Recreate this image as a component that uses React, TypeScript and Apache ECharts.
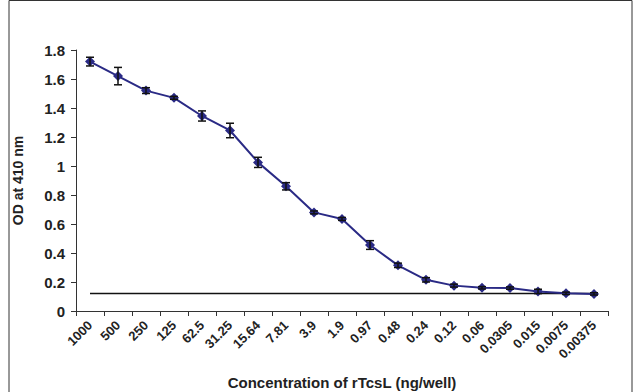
import React, { useEffect, useRef } from "react";
import * as echarts from "echarts";

const categories = ["1000","500","250","125","62.5","31.25","15.64","7.81","3.9","1.9","0.97","0.48","0.24","0.12","0.06","0.0305","0.015","0.0075","0.00375"];
const odValues = [1.72,1.62,1.52,1.47,1.345,1.245,1.025,0.86,0.68,0.635,0.455,0.315,0.215,0.175,0.16,0.158,0.135,0.122,0.118];
const errValues = [0.03,0.06,0.02,0.01,0.035,0.05,0.035,0.025,0.01,0.01,0.03,0.015,0.015,0.01,0.008,0.008,0.015,0.008,0.008];
const cutoff = categories.map(() => 0.12);
const yTicks = { min: 0, max: 1.8, interval: 0.2 };

export default function App() {
  const ref = useRef<HTMLDivElement>(null);
  useEffect(() => {
    if (!ref.current) return;
    const chart = echarts.init(ref.current, null, { renderer: "svg" });
    const font = "Liberation Sans, Arial, sans-serif";
    chart.setOption({
      animation: false,
      backgroundColor: "#ffffff",
      grid: { left: 76, right: 28, top: 50, bottom: 81, containLabel: false, outerBoundsMode: "none" },
      graphic: [
        { type: "rect", shape: { x: 9, y: 0.5, width: 623, height: 400 }, style: { fill: "none", stroke: "#333", lineWidth: 1 }, silent: true },
      ],
      xAxis: {
        type: "category",
        data: categories,
        boundaryGap: true,
        axisLine: { lineStyle: { color: "#333", width: 1 } },
        axisTick: { show: true, length: 5, lineStyle: { color: "#333" }, alignWithLabel: false },
        axisLabel: { rotate: 45, interval: 0, fontFamily: font, fontWeight: "bold", fontSize: 13, color: "#222", margin: 12 },
        name: "Concentration of rTcsL (ng/well)",
        nameLocation: "middle",
        nameGap: 64,
        nameTextStyle: { fontFamily: font, fontWeight: "bold", fontSize: 15, color: "#222" },
      },
      yAxis: {
        type: "value",
        min: yTicks.min,
        max: yTicks.max,
        interval: yTicks.interval,
        splitLine: { show: false },
        axisLine: { show: true, lineStyle: { color: "#333", width: 1 } },
        axisTick: { show: true, length: 5, lineStyle: { color: "#333" } },
        axisLabel: {
          fontFamily: font, fontWeight: "bold", fontSize: 15, color: "#222", margin: 11,
          formatter: (v: number) => String(parseFloat(v.toFixed(1))),
        },
        name: "OD at 410 nm",
        nameLocation: "middle",
        nameGap: 51,
        nameRotate: 90,
        nameTextStyle: { fontFamily: font, fontWeight: "bold", fontSize: 14, color: "#222" },
      },
      series: [
        {
          type: "line",
          data: cutoff,
          symbol: "none",
          lineStyle: { color: "#111", width: 1.5 },
          z: 1,
        },
        {
          type: "line",
          data: odValues,
          symbol: "diamond",
          symbolSize: 10,
          itemStyle: { color: "#2a2a85" },
          lineStyle: { color: "#2a2a85", width: 2 },
          z: 3,
        },
        {
          type: "custom",
          data: odValues.map((v, i) => [i, v - errValues[i], v + errValues[i]]),
          z: 4,
          renderItem: (params: any, api: any) => {
            const i = api.value(0);
            const lo = api.coord([i, api.value(1)]);
            const hi = api.coord([i, api.value(2)]);
            const w = 4;
            const style = { stroke: "#111", lineWidth: 1.5, fill: "none" };
            return {
              type: "group",
              children: [
                { type: "line", shape: { x1: lo[0], y1: lo[1], x2: hi[0], y2: hi[1] }, style },
                { type: "line", shape: { x1: lo[0] - w, y1: lo[1], x2: lo[0] + w, y2: lo[1] }, style },
                { type: "line", shape: { x1: hi[0] - w, y1: hi[1], x2: hi[0] + w, y2: hi[1] }, style },
              ],
            };
          },
        },
      ],
    });
    return () => chart.dispose();
  }, []);
  return <div ref={ref} style={{ position: "fixed", left: 0, top: 0, width: 636, height: 392 }} />;
}
